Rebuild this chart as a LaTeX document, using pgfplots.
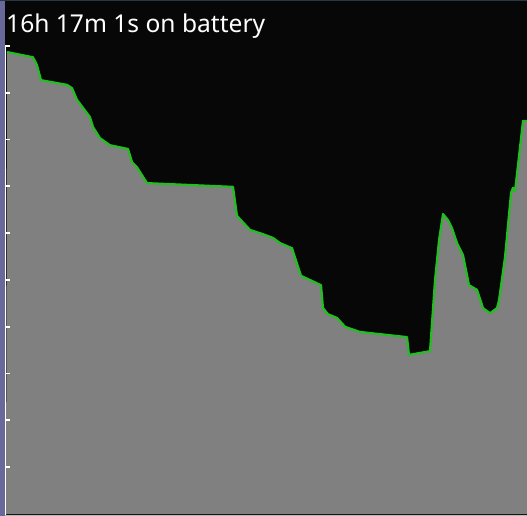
\documentclass[border=0pt]{standalone}
\usepackage{fontspec}
\setmainfont{Noto Sans}
\usepackage{pgfplots}
\pgfplotsset{compat=1.18}
\definecolor{bg}{RGB}{7,7,7}
\definecolor{fillgray}{RGB}{128,128,128}
\definecolor{linegreen}{RGB}{34,190,34}
\definecolor{strip}{RGB}{104,104,154}
\definecolor{topline}{RGB}{40,55,70}
\begin{document}
\begin{tikzpicture}[x=1bp,y=1bp]
\useasboundingbox (0,0) rectangle (527,516);
\fill[strip] (0,0) rectangle (5,516);
\begin{axis}[at={(5bp,0bp)}, anchor=south west, scale only axis,
  width=522bp, height=516bp,
  xmin=-1, xmax=521, ymin=-0.427, ymax=109.83,
  axis background/.style={fill=bg},
  axis on top,
  axis line style={draw=none},
  xtick=\empty, ytick={10,20,...,100}, yticklabels={}, ytick pos=left,
  tick style={white, line width=1.8bp}, major tick length=5bp, tick align=inside,
  clip=true]
\addplot[fill=fillgray, draw=none] coordinates {
(0,-1) (1,98.7) (27,97.6) (31,95.9) (35,92.7) (61,91.7) (66,91.0) (71,88.5)
(84,84.8) (87,82.7) (94,80.3) (104,78.8) (122,78.0) (126,75.2) (131,74.1)
(141,70.7) (227,69.9) (231,63.7) (244,60.7) (257,59.8) (267,59.0) (274,57.9)
(286,56.8) (295,50.9) (315,48.9) (317,44.0) (322,42.7) (331,41.9) (339,40.0)
(354,38.9) (401,37.8) (403,34.0) (424,34.8) (429,50.0) (433,58.5) (437,64.1)
(442,62.8) (446,61.1) (451,57.9) (457,55.3) (463,48.9) (471,47.9) (477,44.0)
(484,42.9) (491,44.0) (493,45.7) (499,54.9) (505,68.6) (507,69.7) (509,69.0)
(517,84.0) (521,84.0) (521,-1)} \closedcycle;
\addplot[draw=linegreen, line width=2.2bp, line join=round, mark=none] coordinates {
(1,98.7) (27,97.6) (31,95.9) (35,92.7) (61,91.7) (66,91.0) (71,88.5)
(84,84.8) (87,82.7) (94,80.3) (104,78.8) (122,78.0) (126,75.2) (131,74.1)
(141,70.7) (227,69.9) (231,63.7) (244,60.7) (257,59.8) (267,59.0) (274,57.9)
(286,56.8) (295,50.9) (315,48.9) (317,44.0) (322,42.7) (331,41.9) (339,40.0)
(354,38.9) (401,37.8) (403,34.0) (424,34.8) (429,50.0) (433,58.5) (437,64.1)
(442,62.8) (446,61.1) (451,57.9) (457,55.3) (463,48.9) (471,47.9) (477,44.0)
(484,42.9) (491,44.0) (493,45.7) (499,54.9) (505,68.6) (507,69.7) (509,69.0)
(517,84.0) (521,84.0)};
\draw[white, line width=1.5bp] (axis cs:-0.3,-1) -- (axis cs:-0.3,100.2);
\draw[gray!55, line width=1bp] (axis cs:-1,-0.32) -- (axis cs:521,-0.32);
\end{axis}
\draw[topline, line width=1.5bp] (0,515.75) -- (527,515.75);
\node[anchor=base west, text=white, inner sep=0pt] at (6,483)
  {\resizebox{259bp}{!}{\fontsize{27bp}{30bp}\selectfont 16h 17m 1s on battery}};
\end{tikzpicture}
\end{document}
